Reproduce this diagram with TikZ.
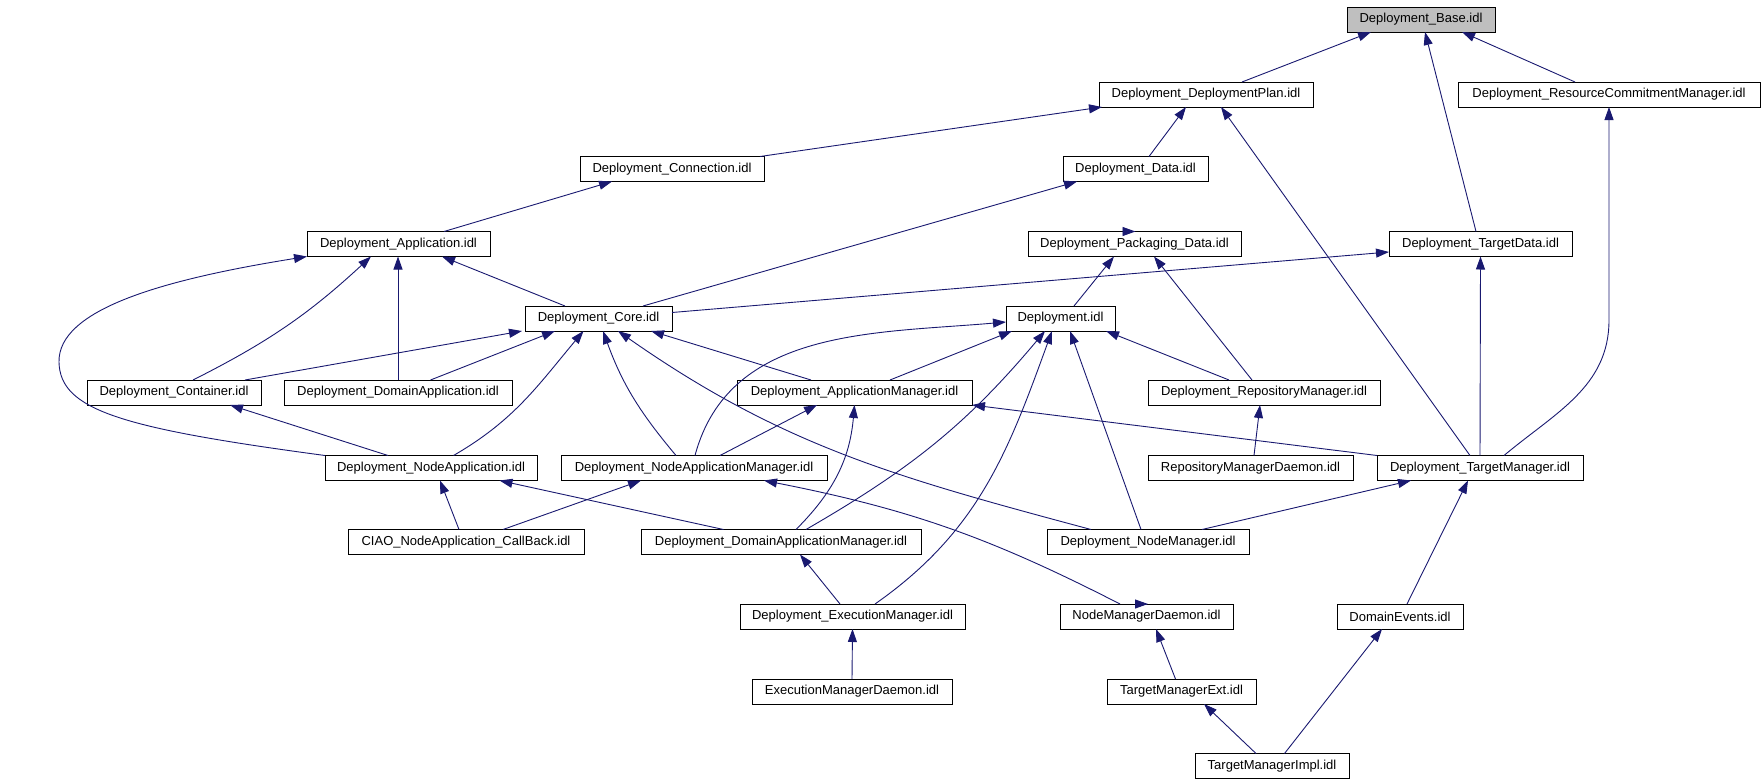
\documentclass[tikz,border=0pt]{standalone}
\usepackage{fontspec}
\setmainfont{Liberation Sans}
\usetikzlibrary{arrows.meta}
\definecolor{edgeblue}{HTML}{191970}
\definecolor{basegray}{HTML}{BFBFBF}

\begin{document}
\begin{tikzpicture}[x=1pt,y=1pt,>={Triangle[length=13pt,width=9pt]},font=\fontsize{13}{15}\selectfont]
\tikzstyle{box}=[draw,line width=.9pt,inner sep=0pt,outer sep=0pt,minimum height=25,fill=white]
\tikzstyle{dep}=[->,edgeblue,line width=.9pt]
  \useasboundingbox(0,0)rectangle(1764,-784);
  \node(base)at(1421,-19.5)[box,fill=basegray,minimum width=148]{Deployment\_Base.idl};
  \node(plan)at(1206,-94.5)[box,minimum width=214]{Deployment\_DeploymentPlan.idl};
  \node(rcm)at(1609,-94.5)[box,minimum width=302]{Deployment\_ResourceCommitmentManager.idl};
  \node(conn)at(672,-169)[box,minimum width=184]{Deployment\_Connection.idl};
  \node(data)at(1135.5,-169)[box,minimum width=145]{Deployment\_Data.idl};
  \node(app)at(398.5,-244)[box,minimum width=183]{Deployment\_Application.idl};
  \node(pkg)at(1134.5,-244)[box,minimum width=213]{Deployment\_Packaging\_Data.idl};
  \node(tdata)at(1480.5,-244)[box,minimum width=183]{Deployment\_TargetData.idl};
  \node(core)at(598.5,-318.5)[box,minimum width=147]{Deployment\_Core.idl};
  \node(depl)at(1060.5,-318.5)[box,minimum width=109]{Deployment.idl};
  \node(cont)at(174,-392.5)[box,minimum width=174]{Deployment\_Container.idl};
  \node(domapp)at(398,-392.5)[box,minimum width=228]{Deployment\_DomainApplication.idl};
  \node(appmgr)at(854.5,-392.5)[box,minimum width=235]{Deployment\_ApplicationManager.idl};
  \node(repo)at(1264,-392.5)[box,minimum width=232]{Deployment\_RepositoryManager.idl};
  \node(nodeapp)at(431,-468)[box,minimum width=212]{Deployment\_NodeApplication.idl};
  \node(nam)at(694,-468)[box,minimum width=266]{Deployment\_NodeApplicationManager.idl};
  \node(repod)at(1250.5,-468)[box,minimum width=205]{RepositoryManagerDaemon.idl};
  \node(tmgr)at(1480,-468)[box,minimum width=206]{Deployment\_TargetManager.idl};
  \node(ciao)at(466,-542)[box,minimum width=236]{CIAO\_NodeApplication\_CallBack.idl};
  \node(dam)at(781,-542)[box,minimum width=280]{Deployment\_DomainApplicationManager.idl};
  \node(nmgr)at(1148,-542)[box,minimum width=202]{Deployment\_NodeManager.idl};
  \node(exec)at(852.5,-616.5)[box,minimum width=225]{Deployment\_ExecutionManager.idl};
  \node(nmd)at(1146.5,-616.5)[box,minimum width=173]{NodeManagerDaemon.idl};
  \node(devents)at(1400,-616.5)[box,minimum width=126]{DomainEvents.idl};
  \node(execd)at(852,-691.5)[box,minimum width=200]{ExecutionManagerDaemon.idl};
  \node(tmext)at(1181.5,-691.5)[box,minimum width=149]{TargetManagerExt.idl};
  \node(tmimpl)at(1272,-766)[box,minimum width=154]{TargetManagerImpl.idl};
  \draw[dep]([xshift=36]plan.north)--([xshift=-50]base.south);
  \draw[dep]([xshift=-4.5]tdata.north)--([xshift=4]base.south);
  \draw[dep]([xshift=-34]rcm.north)--([xshift=41]base.south);
  \draw[dep]([xshift=88]conn.north)--([xshift=-104]plan.south);
  \draw[dep]([xshift=13.5]data.north)--([xshift=-20]plan.south);
  \draw[dep]([xshift=-10]tmgr.north)--([xshift=15]plan.south);
  \draw[dep]([xshift=45.5]app.north)--([xshift=-60]conn.south);
  \draw[dep]([xshift=44.5]core.north)--([xshift=-58.5]data.south);
  \draw[dep](pkg.north)--(pkg.north-|data.south);
  \draw[dep]([yshift=6]core.east)--([yshift=-8]tdata.west);
  \draw[dep](tmgr.north)--(tdata.south);
  \draw[dep]([xshift=24]tmgr.north)to[out=40,in=-90]([yshift=-213]rcm.south)--(rcm.south);
  \draw[dep]([xshift=-33.5]core.north)--([xshift=43.5]app.south);
  \draw[dep]([xshift=19]cont.north)to[bend right=8]([xshift=-27.5]app.south);
  \draw[dep](domapp.north)--(domapp.north|-app.south);
  \draw[dep](nodeapp.north west)..controls(120,-428)and(60,-410)..(59,-362)
    ..controls(58,-310)and(160,-280)..(app.south west);
  \draw[dep]([xshift=71]cont.north)--([xshift=-76.5]core.south);
  \draw[dep]([xshift=32.5]domapp.north)--([xshift=-43.5]core.south);
  \draw[dep]([xshift=22.5]nodeapp.north)to[out=30,in=-130]([xshift=-15]core.south);
  \draw[dep]([xshift=-18]nam.north)to[out=130,in=-70]([xshift=4.5]core.south);
  \draw[dep]([xshift=-43.5]appmgr.north)--([xshift=52.5]core.south);
  \draw[dep]([xshift=-57]nmgr.north)to[out=165,in=-35]([xshift=19.5]core.south);
  \draw[dep]([xshift=35.5]appmgr.north)--([xshift=-48.5]depl.south);
  \draw[dep]([xshift=-35]repo.north)--([xshift=45.5]depl.south);
  \draw[dep]([xshift=-12]repo.north)--([xshift=19.5]pkg.south);
  \draw[dep]([xshift=13.5]depl.north)--([xshift=-20.5]pkg.south);
  \draw[dep]([xshift=1]nam.north)to[out=75,in=185]([yshift=-3.5]depl.west);
  \draw[dep]([xshift=26]nam.north)--([xshift=-37.5]appmgr.south);
  \draw[dep]([xshift=15]dam.north)to[out=45,in=-95](appmgr.south);
  \draw[dep](tmgr.north west)--(appmgr.south east);
  \draw[dep]([xshift=-43]nodeapp.north)--([xshift=56]cont.south);
  \draw[dep]([xshift=-7]ciao.north)--([xshift=9]nodeapp.south);
  \draw[dep]([xshift=-57.5]dam.north)--([xshift=68.5]nodeapp.south);
  \draw[dep]([xshift=37]ciao.north)--([xshift=-53]nam.south);
  \draw[dep]([xshift=-26.5]nmd.north)to[bend right=8]([xshift=70]nam.south);
  \draw[dep]([xshift=25]dam.north)to[out=30,in=-130]([xshift=-15.5]depl.south);
  \draw[dep]([xshift=22.5]exec.north)to[out=35,in=-110]([xshift=-8.5]depl.south);
  \draw[dep]([xshift=-7]nmgr.north)--([xshift=9.5]depl.south);
  \draw[dep]([xshift=-12.5]exec.north)--([xshift=19]dam.south);
  \draw[dep](execd.north)--(exec.south);
  \draw[dep](nmd.north)--(nmd.north-|nmgr.south);
  \draw[dep]([xshift=-6]tmext.north)--([xshift=9.5]nmd.south);
  \draw[dep]([xshift=54]nmgr.north)--([xshift=-69]tmgr.south);
  \draw[dep]([xshift=7]devents.north)--([xshift=-12]tmgr.south);
  \draw[dep]([xshift=-16]tmimpl.north)--([xshift=22.5]tmext.south);
  \draw[dep]([xshift=12.5]tmimpl.north)--([xshift=-18]devents.south);
  \draw[dep]([xshift=3.5]repod.north)--([xshift=-4]repo.south);
\end{tikzpicture}
\end{document}
